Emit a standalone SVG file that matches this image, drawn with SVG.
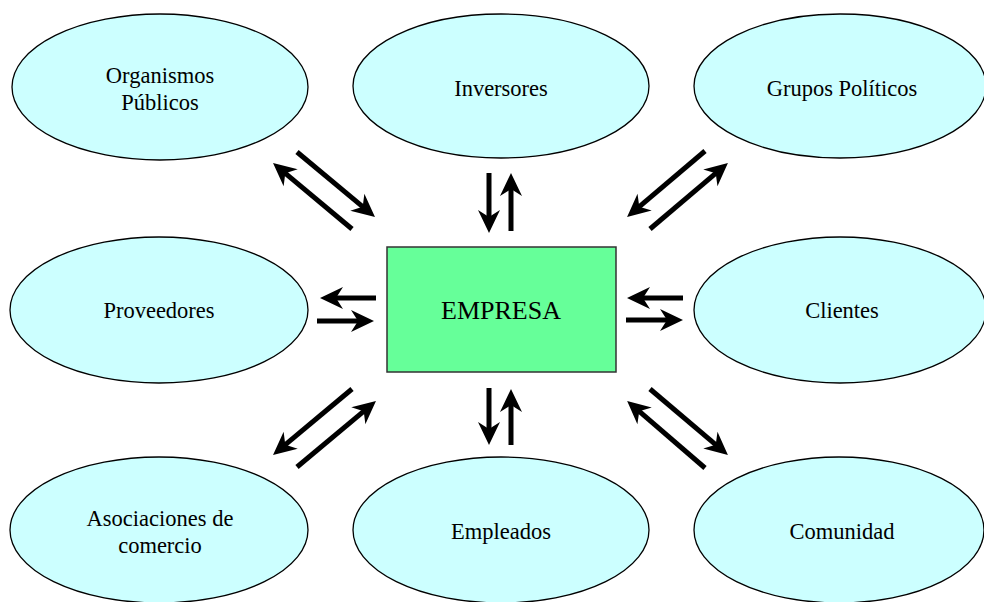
<svg xmlns="http://www.w3.org/2000/svg" width="984" height="602" viewBox="0 0 984 602">
  <style>
    .oval { fill: #CCFFFF; stroke: #000; stroke-width: 1.3; }
    .box { fill: #66FF99; stroke: #333; stroke-width: 1.5; }
    .lbl { font-family: "Liberation Serif", "Times New Roman", serif; font-size: 22.5px; fill: #000; text-anchor: middle; }
    .big { font-size: 26px; }
    .flow { stroke: #000; stroke-width: 5; fill: none; marker-end: url(#head); }
  </style>
  <defs>
    <marker id="head" markerUnits="userSpaceOnUse" viewBox="-11 -12 26 24" refX="0" refY="0" markerWidth="26" markerHeight="24" orient="auto">
      <path d="M13,0 L-10,-11 L-3,0 L-10,11 Z" fill="#000"/>
    </marker>
  </defs>

  <rect width="984" height="602" fill="#fff"/>

  <g id="organismos">
    <ellipse class="oval" cx="160" cy="87" rx="148" ry="73"/>
    <text class="lbl" x="160" y="83">Organismos</text>
    <text class="lbl" x="160" y="110">Públicos</text>
  </g>
  <g id="inversores">
    <ellipse class="oval" cx="501" cy="86" rx="148" ry="72"/>
    <text class="lbl" x="501" y="96">Inversores</text>
  </g>
  <g id="grupos">
    <ellipse class="oval" cx="840" cy="86" rx="146" ry="72"/>
    <text class="lbl" x="842" y="96">Grupos Políticos</text>
  </g>
  <g id="proveedores">
    <ellipse class="oval" cx="159" cy="310" rx="149" ry="73"/>
    <text class="lbl" x="159" y="318">Proveedores</text>
  </g>
  <g id="empresa">
    <rect class="box" x="387" y="247" width="229" height="125"/>
    <text class="lbl big" x="501" y="319">EMPRESA</text>
  </g>
  <g id="clientes">
    <ellipse class="oval" cx="840" cy="310" rx="146" ry="73"/>
    <text class="lbl" x="842" y="318">Clientes</text>
  </g>
  <g id="asociaciones">
    <ellipse class="oval" cx="159" cy="530" rx="149" ry="73"/>
    <text class="lbl" x="160" y="526">Asociaciones de</text>
    <text class="lbl" x="160" y="553">comercio</text>
  </g>
  <g id="empleados">
    <ellipse class="oval" cx="501" cy="530" rx="148" ry="73"/>
    <text class="lbl" x="501" y="539">Empleados</text>
  </g>
  <g id="comunidad">
    <ellipse class="oval" cx="839" cy="530" rx="145" ry="73"/>
    <text class="lbl" x="842" y="539">Comunidad</text>
  </g>

  <g id="connectors">
    <!-- Organismos Públicos -->
    <line class="flow" x1="297" y1="152" x2="365" y2="208.7"/>
    <line class="flow" x1="352" y1="229" x2="283" y2="171.3"/>
    <!-- Inversores -->
    <line class="flow" x1="489" y1="173" x2="489" y2="220"/>
    <line class="flow" x1="511" y1="231" x2="511" y2="186"/>
    <!-- Grupos Políticos -->
    <line class="flow" x1="705" y1="151" x2="637" y2="208.6"/>
    <line class="flow" x1="650" y1="229" x2="718" y2="171.4"/>
    <!-- Proveedores -->
    <line class="flow" x1="376" y1="298" x2="333" y2="298"/>
    <line class="flow" x1="317" y1="321" x2="361" y2="321"/>
    <!-- Clientes -->
    <line class="flow" x1="683" y1="298" x2="640" y2="298"/>
    <line class="flow" x1="626" y1="320" x2="670" y2="320"/>
    <!-- Asociaciones de comercio -->
    <line class="flow" x1="352" y1="389" x2="283" y2="446.7"/>
    <line class="flow" x1="297" y1="467" x2="366" y2="409.3"/>
    <!-- Empleados -->
    <line class="flow" x1="489" y1="388" x2="489" y2="432"/>
    <line class="flow" x1="511" y1="445" x2="511" y2="402"/>
    <!-- Comunidad -->
    <line class="flow" x1="650" y1="389" x2="718" y2="446.7"/>
    <line class="flow" x1="705" y1="468" x2="637" y2="409.4"/>
  </g>
</svg>
